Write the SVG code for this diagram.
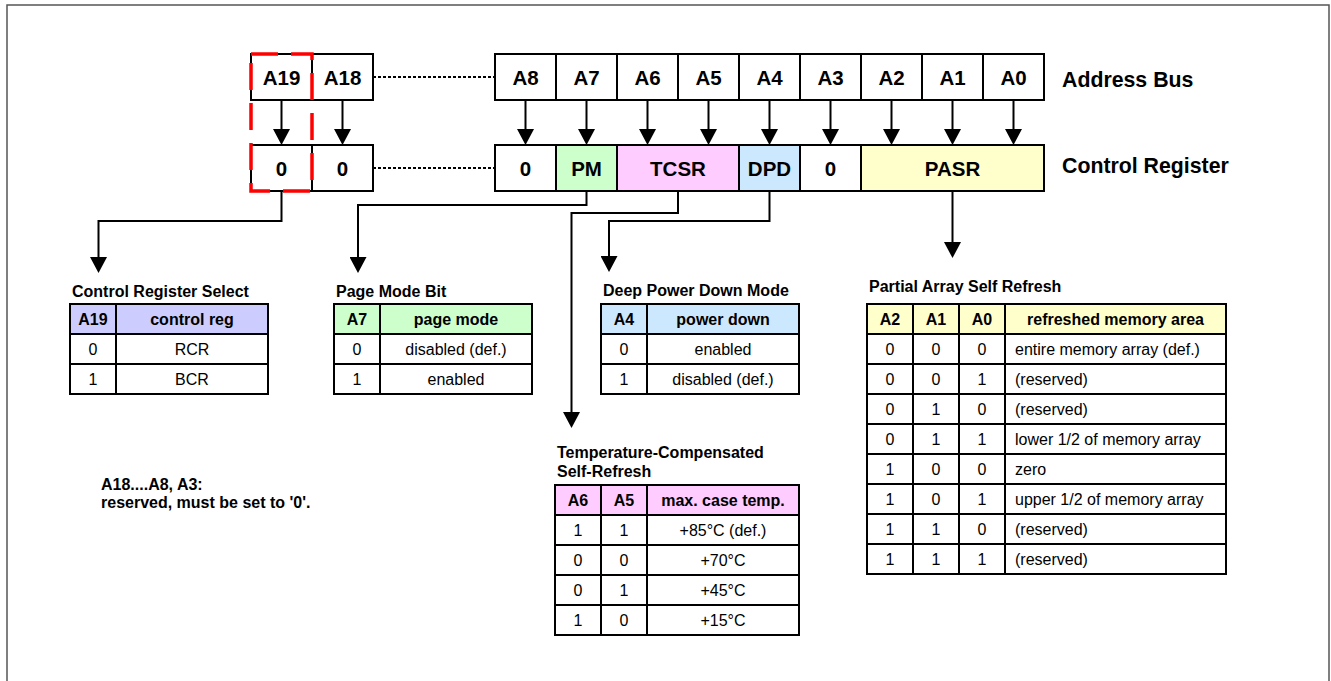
<svg xmlns="http://www.w3.org/2000/svg" width="1331" height="681" viewBox="0 0 1331 681">
<defs>
<style>
.c{fill:#fff;stroke:#000;stroke-width:2}
.ct{font-family:"Liberation Sans",Arial,sans-serif;font-weight:bold;font-size:20.5px;text-anchor:middle}
.lbl{font-family:"Liberation Sans",Arial,sans-serif;font-weight:bold;font-size:21.3px}
.ttl{font-family:"Liberation Sans",Arial,sans-serif;font-weight:bold;font-size:16px}
.th{font-family:"Liberation Sans",Arial,sans-serif;font-weight:bold;font-size:16px;text-anchor:middle}
.td{font-family:"Liberation Sans",Arial,sans-serif;font-size:16px;text-anchor:middle}
.tl{font-family:"Liberation Sans",Arial,sans-serif;font-size:16px}
.grid{fill:none;stroke:#000;stroke-width:2}
.conn{fill:none;stroke:#000;stroke-width:2}
.dot{fill:none;stroke:#000;stroke-width:2;stroke-dasharray:3 2}
</style>
<marker id="ah" markerUnits="userSpaceOnUse" markerWidth="17" markerHeight="17" viewBox="0 0 16 17" refX="8" refY="8.5" orient="auto">
<path d="M0,0 L16,8.5 L0,17 Z" fill="#000"/>
</marker>
</defs>
<rect x="0" y="0" width="1331" height="681" fill="#fff"/>
<rect x="7" y="5" width="1322" height="700" fill="none" stroke="#555" stroke-width="1.5"/>

<g id="connectors">
<line class="dot" x1="373" y1="77" x2="495" y2="77"/>
<line class="dot" x1="373" y1="168" x2="495" y2="168"/>
<g marker-end="url(#ah)">
<line class="conn" x1="281.5" y1="100" x2="281.5" y2="137"/>
<line class="conn" x1="342.5" y1="100" x2="342.5" y2="137"/>
<line class="conn" x1="525.5" y1="100" x2="525.5" y2="137"/>
<line class="conn" x1="586.5" y1="100" x2="586.5" y2="137"/>
<line class="conn" x1="647.5" y1="100" x2="647.5" y2="137"/>
<line class="conn" x1="708.5" y1="100" x2="708.5" y2="137"/>
<line class="conn" x1="769.5" y1="100" x2="769.5" y2="137"/>
<line class="conn" x1="830.5" y1="100" x2="830.5" y2="137"/>
<line class="conn" x1="891.5" y1="100" x2="891.5" y2="137"/>
<line class="conn" x1="952.5" y1="100" x2="952.5" y2="137"/>
<line class="conn" x1="1013.5" y1="100" x2="1013.5" y2="137"/>
<path class="conn" d="M281.5,191 V221 H98.5 V265"/>
<path class="conn" d="M586.5,191 V205 H358 V265"/>
<path class="conn" d="M678,191 V213 H571.5 V420"/>
<path class="conn" d="M769.5,191 V221 H609 V264"/>
<path class="conn" d="M952.5,191 V250"/>
</g>
</g>

<g id="address-bus">
<g id="bus-A19"><rect class="c" x="251" y="54" width="61" height="46"/><text class="ct" x="281.5" y="84.5">A19</text></g>
<g id="bus-A18"><rect class="c" x="312" y="54" width="61" height="46"/><text class="ct" x="342.5" y="84.5">A18</text></g>
<g id="bus-A8"><rect class="c" x="495" y="54" width="61" height="46"/><text class="ct" x="525.5" y="84.5">A8</text></g>
<g id="bus-A7"><rect class="c" x="556" y="54" width="61" height="46"/><text class="ct" x="586.5" y="84.5">A7</text></g>
<g id="bus-A6"><rect class="c" x="617" y="54" width="61" height="46"/><text class="ct" x="647.5" y="84.5">A6</text></g>
<g id="bus-A5"><rect class="c" x="678" y="54" width="61" height="46"/><text class="ct" x="708.5" y="84.5">A5</text></g>
<g id="bus-A4"><rect class="c" x="739" y="54" width="61" height="46"/><text class="ct" x="769.5" y="84.5">A4</text></g>
<g id="bus-A3"><rect class="c" x="800" y="54" width="61" height="46"/><text class="ct" x="830.5" y="84.5">A3</text></g>
<g id="bus-A2"><rect class="c" x="861" y="54" width="61" height="46"/><text class="ct" x="891.5" y="84.5">A2</text></g>
<g id="bus-A1"><rect class="c" x="922" y="54" width="61" height="46"/><text class="ct" x="952.5" y="84.5">A1</text></g>
<g id="bus-A0"><rect class="c" x="983" y="54" width="61" height="46"/><text class="ct" x="1013.5" y="84.5">A0</text></g>
<text class="lbl" x="1062" y="87">Address Bus</text>
</g>

<g id="control-register">
<g id="cr-19"><rect class="c" x="251" y="145" width="61" height="46"/><text class="ct" x="281.5" y="175.5">0</text></g>
<g id="cr-18"><rect class="c" x="312" y="145" width="61" height="46"/><text class="ct" x="342.5" y="175.5">0</text></g>
<g id="cr-8"><rect class="c" x="495" y="145" width="61" height="46"/><text class="ct" x="525.5" y="175.5">0</text></g>
<g id="cr-PM"><rect class="c" x="556" y="145" width="61" height="46" style="fill:#ccffcc"/><text class="ct" x="586.5" y="175.5">PM</text></g>
<g id="cr-TCSR"><rect class="c" x="617" y="145" width="122" height="46" style="fill:#ffccff"/><text class="ct" x="678" y="175.5">TCSR</text></g>
<g id="cr-DPD"><rect class="c" x="739" y="145" width="61" height="46" style="fill:#cce8ff"/><text class="ct" x="769.5" y="175.5">DPD</text></g>
<g id="cr-3"><rect class="c" x="800" y="145" width="61" height="46"/><text class="ct" x="830.5" y="175.5">0</text></g>
<g id="cr-PASR"><rect class="c" x="861" y="145" width="183" height="46" style="fill:#ffffcc"/><text class="ct" x="952.5" y="175.5">PASR</text></g>
<text class="lbl" x="1062" y="173">Control Register</text>
</g>

<g id="highlight-A19">
<rect x="251" y="54" width="61" height="137" fill="none" stroke="#ff0000" stroke-width="3.5" stroke-dasharray="27 13"/>
</g>

<g id="tbl-control-register-select">
<text class="ttl" x="72" y="297">Control Register Select</text>
<rect x="70" y="304" width="198" height="30" fill="#ccccff"/>
<rect class="grid" x="70" y="304" width="198" height="90"/>
<path class="grid" d="M70,334 H268 M70,364 H268 M116,304 V394"/>
<text class="th" x="93" y="325">A19</text><text class="th" x="192" y="325">control reg</text>
<text class="td" x="93" y="355">0</text><text class="td" x="192" y="355">RCR</text>
<text class="td" x="93" y="385">1</text><text class="td" x="192" y="385">BCR</text>
</g>

<g id="tbl-page-mode">
<text class="ttl" x="336" y="297">Page Mode Bit</text>
<rect x="334" y="304" width="198" height="30" fill="#ccffcc"/>
<rect class="grid" x="334" y="304" width="198" height="90"/>
<path class="grid" d="M334,334 H532 M334,364 H532 M380,304 V394"/>
<text class="th" x="357" y="325">A7</text><text class="th" x="456" y="325">page mode</text>
<text class="td" x="357" y="355">0</text><text class="td" x="456" y="355">disabled (def.)</text>
<text class="td" x="357" y="385">1</text><text class="td" x="456" y="385">enabled</text>
</g>

<g id="tbl-deep-power-down">
<text class="ttl" x="603" y="296">Deep Power Down Mode</text>
<rect x="601" y="304" width="198" height="30" fill="#cce8ff"/>
<rect class="grid" x="601" y="304" width="198" height="90"/>
<path class="grid" d="M601,334 H799 M601,364 H799 M647,304 V394"/>
<text class="th" x="624" y="325">A4</text><text class="th" x="723" y="325">power down</text>
<text class="td" x="624" y="355">0</text><text class="td" x="723" y="355">enabled</text>
<text class="td" x="624" y="385">1</text><text class="td" x="723" y="385">disabled (def.)</text>
</g>

<g id="tbl-tcsr">
<text class="ttl" x="557" y="458">Temperature-Compensated</text>
<text class="ttl" x="557" y="477">Self-Refresh</text>
<rect x="555" y="485" width="244" height="30" fill="#ffccff"/>
<rect class="grid" x="555" y="485" width="244" height="150"/>
<path class="grid" d="M555,515 H799 M555,545 H799 M555,575 H799 M555,605 H799 M601,485 V635 M647,485 V635"/>
<text class="th" x="578" y="506">A6</text><text class="th" x="624" y="506">A5</text><text class="th" x="723" y="506">max. case temp.</text>
<text class="td" x="578" y="536">1</text><text class="td" x="624" y="536">1</text><text class="td" x="723" y="536">+85°C (def.)</text>
<text class="td" x="578" y="566">0</text><text class="td" x="624" y="566">0</text><text class="td" x="723" y="566">+70°C</text>
<text class="td" x="578" y="596">0</text><text class="td" x="624" y="596">1</text><text class="td" x="723" y="596">+45°C</text>
<text class="td" x="578" y="626">1</text><text class="td" x="624" y="626">0</text><text class="td" x="723" y="626">+15°C</text>
</g>

<g id="tbl-pasr">
<text class="ttl" x="869" y="292">Partial Array Self Refresh</text>
<rect x="867" y="304" width="359" height="30" fill="#ffffcc"/>
<rect class="grid" x="867" y="304" width="359" height="270"/>
<path class="grid" d="M867,334 H1226 M867,364 H1226 M867,394 H1226 M867,424 H1226 M867,454 H1226 M867,484 H1226 M867,514 H1226 M867,544 H1226 M913,304 V574 M959,304 V574 M1005,304 V574"/>
<text class="th" x="890" y="325">A2</text><text class="th" x="936" y="325">A1</text><text class="th" x="982" y="325">A0</text><text class="th" x="1115.5" y="325">refreshed memory area</text>
<text class="td" x="890" y="355">0</text><text class="td" x="936" y="355">0</text><text class="td" x="982" y="355">0</text><text class="tl" x="1015" y="355">entire memory array (def.)</text>
<text class="td" x="890" y="385">0</text><text class="td" x="936" y="385">0</text><text class="td" x="982" y="385">1</text><text class="tl" x="1015" y="385">(reserved)</text>
<text class="td" x="890" y="415">0</text><text class="td" x="936" y="415">1</text><text class="td" x="982" y="415">0</text><text class="tl" x="1015" y="415">(reserved)</text>
<text class="td" x="890" y="445">0</text><text class="td" x="936" y="445">1</text><text class="td" x="982" y="445">1</text><text class="tl" x="1015" y="445">lower 1/2 of memory array</text>
<text class="td" x="890" y="475">1</text><text class="td" x="936" y="475">0</text><text class="td" x="982" y="475">0</text><text class="tl" x="1015" y="475">zero</text>
<text class="td" x="890" y="505">1</text><text class="td" x="936" y="505">0</text><text class="td" x="982" y="505">1</text><text class="tl" x="1015" y="505">upper 1/2 of memory array</text>
<text class="td" x="890" y="535">1</text><text class="td" x="936" y="535">1</text><text class="td" x="982" y="535">0</text><text class="tl" x="1015" y="535">(reserved)</text>
<text class="td" x="890" y="565">1</text><text class="td" x="936" y="565">1</text><text class="td" x="982" y="565">1</text><text class="tl" x="1015" y="565">(reserved)</text>
</g>

<g id="note">
<text class="ttl" x="101" y="490">A18....A8, A3:</text>
<text class="ttl" x="101" y="508">reserved, must be set to '0'.</text>
</g>
</svg>
